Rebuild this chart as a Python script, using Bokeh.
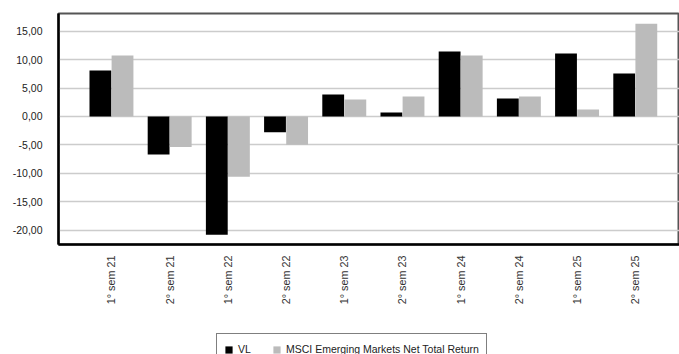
import math
from bokeh.plotting import figure
from bokeh.layouts import column
from bokeh.models import ColumnDataSource, FixedTicker, Legend, LegendItem, Range1d
from bokeh.transform import dodge
from bokeh.embed import file_html
from bokeh.resources import INLINE

categories = ["1° sem 21", "2° sem 21", "1° sem 22", "2° sem 22", "1° sem 23",
              "2° sem 23", "1° sem 24", "2° sem 24", "1° sem 25", "2° sem 25"]
vl = [8.07, -6.67, -20.8, -2.75, 3.86, 0.70, 11.4, 3.16, 11.05, 7.54]
msci = [10.7, -5.38, -10.6, -4.97, 2.98, 3.50, 10.7, 3.50, 1.23, 16.3]
y_ticks = [-20, -15, -10, -5, 0, 5, 10, 15]
y_tick_labels = ["-20,00", "-15,00", "-10,00", "-5,00", "0,00", "5,00", "10,00", "15,00"]
series_names = ["VL", "MSCI Emerging Markets Net Total Return"]
series_colors = ["#000000", "#bbbbbb"]

idx = list(range(len(categories)))
src = ColumnDataSource(dict(x=idx, vl=vl, msci=msci))

p = figure(width=679, height=330, output_backend="svg", toolbar_location=None,
           x_range=Range1d(-0.91, 9.76), y_range=Range1d(-22.5, 18.1),
           min_border_left=58, min_border_top=13, min_border_right=0, min_border_bottom=86)

p.outline_line_color = "#555555"
p.outline_line_width = 2

p.vbar(x=dodge("x", -0.19, range=p.x_range), top="vl", width=0.375, source=src,
       fill_color=series_colors[0], line_color=None)
p.vbar(x=dodge("x", 0.19, range=p.x_range), top="msci", width=0.375, source=src,
       fill_color=series_colors[1], line_color=None)

font = "Liberation Sans"
p.xaxis.ticker = FixedTicker(ticks=idx)
p.xaxis.major_label_overrides = {i: c for i, c in zip(idx, categories)}
p.xaxis.major_label_orientation = math.pi / 2
p.xaxis.major_tick_line_color = None
p.xaxis.minor_tick_line_color = None
p.xaxis.major_tick_out = 0
p.xaxis.major_label_standoff = 11
p.xaxis.axis_line_color = "#000000"
p.xaxis.axis_line_width = 2.5
p.xaxis.major_label_text_font = font
p.xaxis.major_label_text_font_size = "10.8px"
p.xaxis.major_label_text_color = "#333333"

p.yaxis.ticker = FixedTicker(ticks=y_ticks)
p.yaxis.major_label_overrides = {t: l for t, l in zip(y_ticks, y_tick_labels)}
p.yaxis.major_tick_line_color = None
p.yaxis.minor_tick_line_color = None
p.yaxis.major_tick_out = 0
p.yaxis.major_label_standoff = 16
p.yaxis.axis_line_color = "#000000"
p.yaxis.axis_line_width = 2.5
p.yaxis.major_label_text_font = font
p.yaxis.major_label_text_font_size = "10.5px"
p.yaxis.major_label_text_color = "#222222"

p.xgrid.grid_line_color = None
p.ygrid.ticker = FixedTicker(ticks=y_ticks)
p.ygrid.grid_line_color = "#cccccc"
p.ygrid.grid_line_width = 1.5

# legend strip below the chart (swatch renderers sit outside its visible range)
p2 = figure(width=679, height=24, output_backend="svg", toolbar_location=None,
            x_axis_location=None, y_axis_location=None,
            x_range=Range1d(0, 1), y_range=Range1d(0, 1),
            min_border_left=0, min_border_right=0, min_border_top=0, min_border_bottom=0)
p2.outline_line_color = None
p2.grid.grid_line_color = None
l1 = p2.vbar(x=[50], top=[1], width=0.1, fill_color=series_colors[0], line_color=None)
l2 = p2.vbar(x=[60], top=[1], width=0.1, fill_color=series_colors[1], line_color=None)

legend = Legend(items=[LegendItem(label=series_names[0], renderers=[l1]),
                       LegendItem(label=series_names[1], renderers=[l2])],
                orientation="horizontal", location=(158, -11))
legend.border_line_color = "#000000"
legend.border_line_width = 1
legend.label_text_font = font
legend.label_text_font_size = "10.5px"
legend.label_text_color = "#222222"
legend.glyph_width = 9
legend.glyph_height = 9
legend.label_standoff = 5
legend.spacing = 14
legend.padding = 7
legend.margin = 0
legend.label_height = 16
p2.add_layout(legend, "center")

layout = column(p, p2, spacing=0)
open("out.html", "w").write(file_html(layout, INLINE))
